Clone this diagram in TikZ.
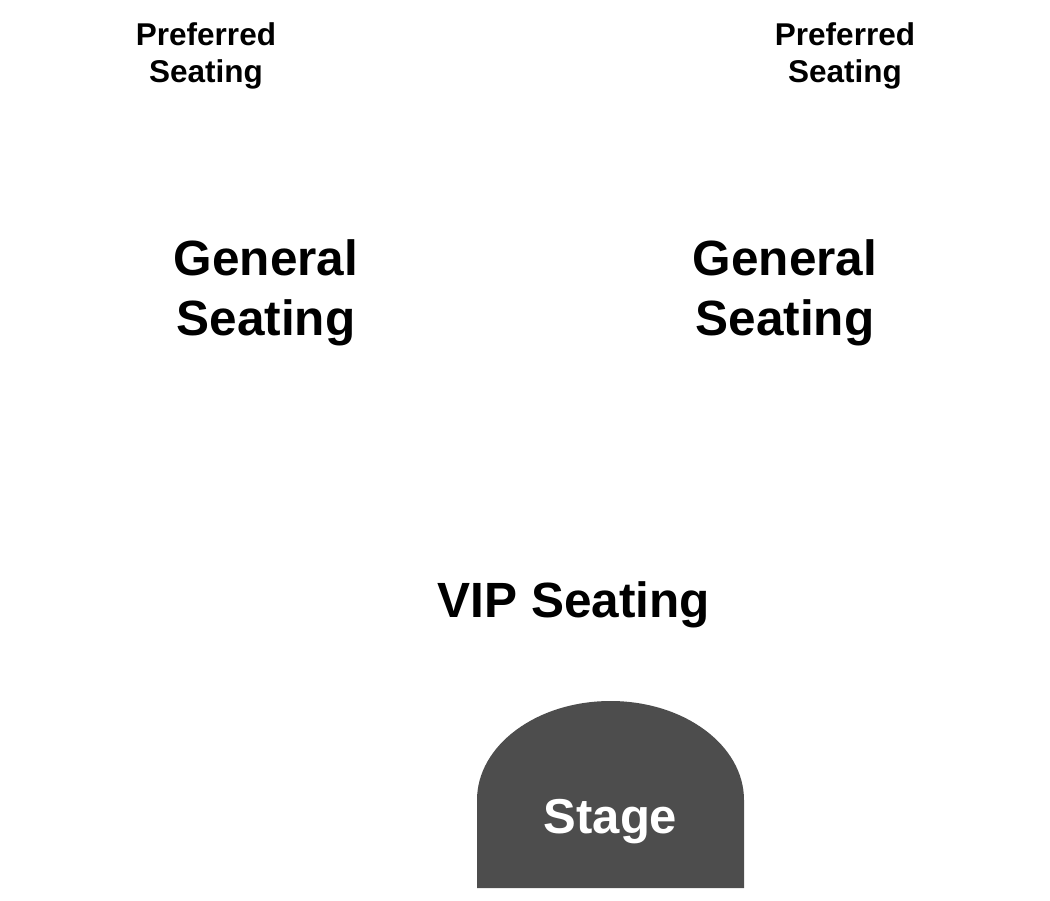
\documentclass[tikz,border=0pt]{standalone}
\usepackage{fontspec}
\setmainfont{Liberation Sans}
\definecolor{stagegray}{HTML}{4D4D4D}
\begin{document}
\begin{tikzpicture}[x=1pt, y=-1pt,
   small/.style={font=\bfseries\fontsize{31.5}{37}\selectfont, align=center, anchor=base, inner sep=0pt},
   big/.style={font=\bfseries\fontsize{49.5}{60}\selectfont, align=center, anchor=base, inner sep=0pt}]
   %marco
   \useasboundingbox (0,0) rectangle (1050,900);
   %escenario
   \fill[stagegray] (477,888) -- (477,800) arc[start angle=180, end angle=360, x radius=133.5, y radius=99] -- (744,888) -- cycle;
   \node[big, text=white, font=\bfseries\fontsize{49}{56}\selectfont] (stage) at (610.5,833) {Stage};
   %zonas
   \node[small] (prefL) at (206,82) {Preferred\\Seating};
   \node[small] (prefR) at (845,82) {Preferred\\Seating};
   \node[big] (genL) at (266,335) {General\\Seating};
   \node[big] (genR) at (785,335) {General\\Seating};
   \node[big] (vip) at (574,617) {VIP Seating};
\end{tikzpicture}
\end{document}
